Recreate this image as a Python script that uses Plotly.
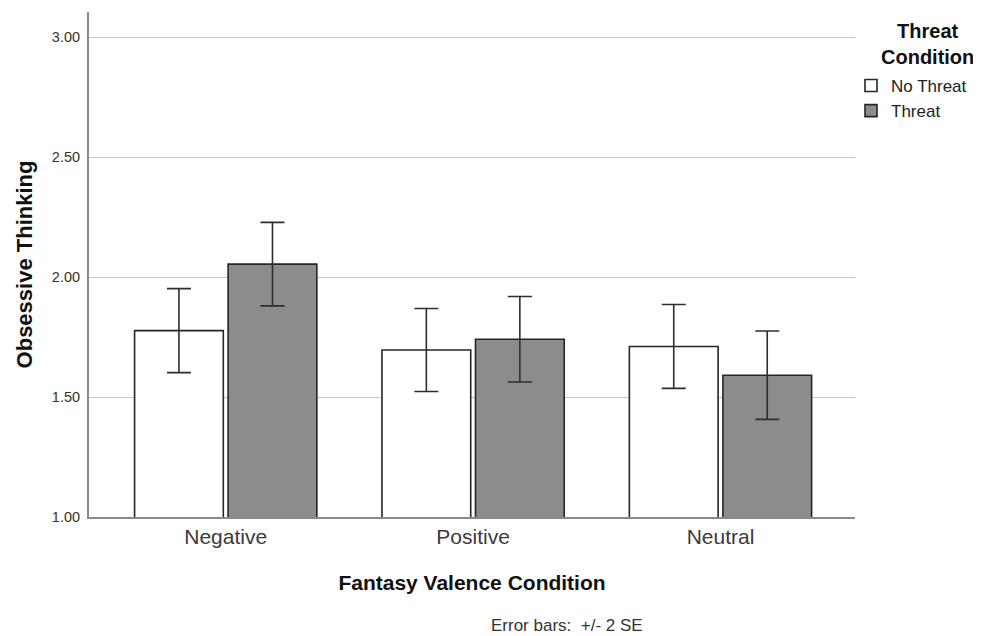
import plotly.graph_objects as go

categories = ["Negative", "Positive", "Neutral"]
no_threat_means = [1.777, 1.696, 1.711]
no_threat_err = [0.175, 0.173, 0.175]
threat_means = [2.054, 1.741, 1.591]
threat_err = [0.174, 0.178, 0.184]
y_ticks = [1.0, 1.5, 2.0, 2.5, 3.0]
y_tick_labels = ["1.00", "1.50", "2.00", "2.50", "3.00"]

FONT = "Arial, 'Liberation Sans', sans-serif"
OUTLINE = "#262626"
ERR = "#2e2e2e"

# page body has an 8px default margin; plot area spans x 89..855, y 12..517 in the window
PL, PT, PW, PH = 81, 4, 766, 505

def px(x):
    return (x - 89) / PW

def py(y):
    return (517 - y) / PH

fig = go.Figure()
fig.add_trace(go.Bar(
    name="No Threat", x=categories, y=no_threat_means,
    marker=dict(color="white", line=dict(color=OUTLINE, width=1.6)),
    error_y=dict(type="data", array=no_threat_err, color=ERR, thickness=1.6, width=12),
))
fig.add_trace(go.Bar(
    name="Threat", x=categories, y=threat_means,
    marker=dict(color="#8c8c8c", line=dict(color=OUTLINE, width=1.6)),
    error_y=dict(type="data", array=threat_err, color=ERR, thickness=1.6, width=12),
))

fig.update_layout(
    width=973, height=628,
    margin=dict(l=PL, r=973 - PL - PW, t=PT, b=628 - PT - PH),
    paper_bgcolor="white", plot_bgcolor="white",
    barmode="group", bargap=0.244, bargroupgap=0.051,
    font=dict(family=FONT, color="#222222"),
    showlegend=True,
    legend=dict(
        x=px(851), xanchor="left",
        y=py(68), yanchor="top",
        font=dict(size=17, color="#222222"),
        bgcolor="rgba(0,0,0,0)", itemwidth=30,
        traceorder="normal",
    ),
    annotations=[
        dict(text="<b>Threat<br>Condition</b>", xref="paper", yref="paper",
             x=px(927), y=py(44), xanchor="center", yanchor="middle",
             showarrow=False, font=dict(size=20, color="#111111", family=FONT)),
        dict(text="Error bars:  +/- 2 SE", xref="paper", yref="paper",
             x=px(567), y=py(625), xanchor="center", yanchor="middle",
             showarrow=False, font=dict(size=17, color="#333333", family=FONT)),
    ],
)

fig.update_xaxes(
    range=[-0.5526, 2.5437],
    showline=True, linecolor="#8a8a8a", linewidth=2,
    ticks="", tickfont=dict(size=21, color="#3a3a3a"),
    title=dict(text="<b>Fantasy Valence Condition</b>", font=dict(size=21, color="#111111"), standoff=28),
    showgrid=False,
)
fig.update_yaxes(
    range=[1.0, 3.105],
    tickvals=y_ticks, ticktext=y_tick_labels,
    showline=True, linecolor="#8a8a8a", linewidth=2,
    ticks="", tickfont=dict(size=14.5, color="#333333"),
    ticklabelstandoff=4,
    showgrid=True, gridcolor="#c8c8c8", gridwidth=1.2,
    zeroline=False,
    title=dict(text="<b>Obsessive Thinking</b>", font=dict(size=22, color="#111111"), standoff=13),
)

fig.write_html("out.html")
